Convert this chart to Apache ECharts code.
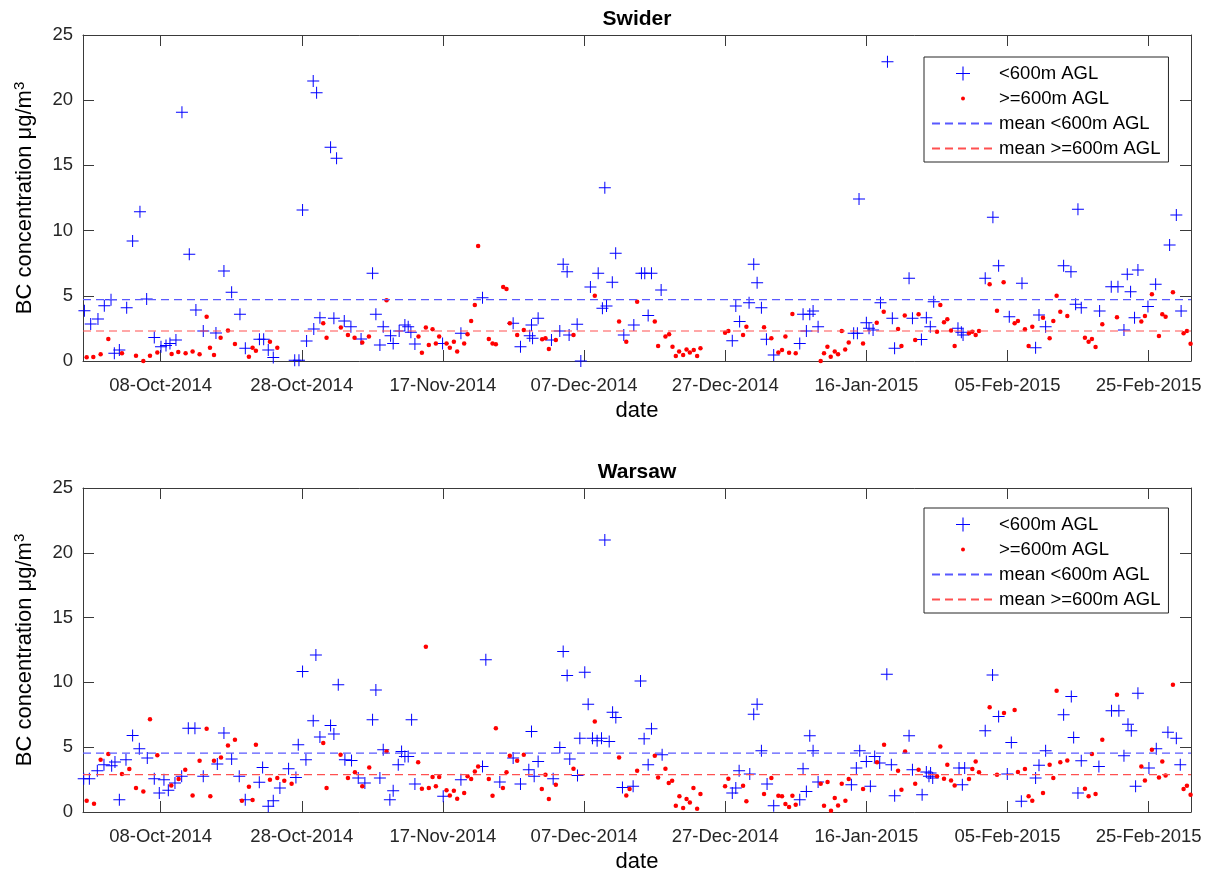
<!DOCTYPE html>
<html>
<head>
<meta charset="utf-8">
<script src="https://cdn.jsdelivr.net/npm/echarts@6/dist/echarts.min.js"></script>
<style>
  html, body { margin: 0; padding: 0; background: #ffffff; }
  #chart { width: 1216px; height: 876px; }
</style>
</head>
<body>
<div id="chart"></div>
<script>
// Time is stored as days since 27-Sep-2014 00:00 UTC.
const startDate = Date.UTC(2014, 8, 27);
const endDay = 157; // 03-Mar-2015

const dateTicks = ['08-Oct-2014', '28-Oct-2014', '17-Nov-2014', '07-Dec-2014',
                   '27-Dec-2014', '16-Jan-2015', '05-Feb-2015', '25-Feb-2015'];

// Swider: [day, BC concentration µg/m3]
const swiderLow = [
  [0.2,3.86],[1.09,2.84],[2.12,3.22],[3.02,4.24],[3.97,4.70],[4.44,0.59],[5.15,0.84],[6.19,4.09],
  [7.03,9.20],[8.07,11.45],[9.02,4.75],[10.10,1.81],[11.05,1.10],[11.76,1.18],[12.32,1.35],[13.17,1.61],
  [14.02,19.07],[15.06,8.18],[16.0,3.91],[17.04,2.30],[18.84,2.15],[19.97,6.90],[21.06,5.27],[22.24,3.58],
  [23.0,0.97],[25.0,1.66],[25.6,1.66],[26.25,0.84],[26.96,0.26],[30.0,0.05],[30.6,0.05],[31.11,11.58],
  [31.68,1.53],[32.62,21.47],[33.1,20.58],[32.7,2.45],[33.57,3.32],[35.08,16.39],[35.93,15.54],[35.55,3.27],
  [37.02,3.07],[37.96,2.63],[39.4,1.69],
  [41.03,6.72],[41.5,3.58],[42.07,1.23],[42.54,2.63],[43.58,1.94],[43.95,1.35],[44.8,2.30],[45.61,2.76],
  [46.08,2.63],[46.46,2.20],[47.03,1.30],[50.95,1.35],[53.55,2.12],[56.61,4.86],[60.95,2.89],[61.99,1.10],
  [63.3,1.94],[63.7,1.74],[63.55,2.76],[64.49,3.27],[66.38,1.61],[67.56,2.30],[68.04,7.41],[68.6,6.85],
  [68.88,1.99],[70.02,2.81],[70.54,0.0],[71.9,5.67],[73.0,6.72],[73.6,4.04],[74.18,4.22],[73.94,13.29],
  [75.0,6.03],[75.48,8.26],[76.63,1.99],[78.05,2.76],
  [79.13,6.72],[79.6,6.72],[80.55,6.72],[80.08,3.48],[81.92,5.44],[92.0,1.56],[92.5,4.22],[93.04,3.02],
  [94.38,4.47],[95.04,7.41],[95.52,6.01],[96.13,4.09],[96.84,1.66],[97.87,0.46],[101.56,1.35],[102.03,3.58],
  [102.5,2.30],[102.98,3.58],[103.45,3.83],[104.16,2.63],[109.2,2.12],[109.73,2.12],[109.96,12.42],[111.0,2.94],
  [111.38,2.51],[111.95,2.38],[113.0,4.47],[113.99,22.95],[114.68,3.27],[115.0,0.97],[117.05,6.34],[117.53,3.27],
  [118.8,1.65],
  [119.5,3.32],[120.06,2.63],[120.54,4.55],[123.98,2.51],[124.46,2.20],[124.7,1.99],[127.84,6.34],[128.93,11.02],
  [129.74,7.31],[131.25,3.40],[133.05,5.96],[134.98,1.02],[135.46,3.53],[136.4,2.63],[138.95,7.31],[139.99,6.85],
  [140.65,4.35],[140.98,11.63],[141.45,4.09],[144.05,3.83],[145.7,5.70],[146.65,5.70],[147.5,2.38],[147.97,6.65],
  [148.44,5.32],[149.0,3.32],[149.48,6.98],[150.9,4.17],[151.99,5.88],[153.97,8.90],[154.92,11.20],[155.6,3.83]
];

const swiderHigh = [
  [0.52,0.28],[1.46,0.31],[2.5,0.51],[3.59,1.69],[5.52,0.59],[7.51,0.41],[8.55,0.0],[9.49,0.41],
  [10.53,0.66],[12.56,0.54],[13.5,0.69],[14.54,0.59],[15.53,0.72],[16.52,0.51],[17.52,3.40],[17.99,1.02],
  [18.56,0.46],[19.5,1.79],[20.54,2.33],[21.53,1.30],[23.51,0.33],[24.03,1.02],[24.5,0.79],[26.49,1.48],
  [27.53,1.02],[34.04,2.89],[34.51,1.79],[36.54,2.56],[37.54,1.99],[38.48,1.79],
  [39.57,1.41],[40.51,1.87],[43.01,4.65],[47.54,1.87],[48.02,0.64],[48.58,2.56],[49.0,1.23],[49.53,2.43],
  [50.0,1.35],[50.47,1.87],[51.51,1.35],[51.98,1.02],[52.55,1.48],[53.02,0.72],[54.01,1.35],[54.49,2.05],
  [55.0,3.07],[55.52,4.29],[55.99,8.82],[57.5,1.69],[58.03,1.35],[58.5,1.28],[59.54,5.67],[60.01,5.52],
  [60.48,2.89],[61.52,1.99],[62.46,2.38],[65.06,1.66],[65.53,1.74],[66.01,0.92],[67.0,1.61],[69.5,1.99],
  [72.52,5.01],[75.96,3.02],[76.98,1.48],[78.52,4.55],
  [81.02,3.02],[81.49,1.15],[82.53,1.87],[83.05,2.05],[83.53,1.10],[84.0,0.38],[84.47,0.72],[85.04,0.46],
  [85.52,0.89],[85.99,0.66],[86.54,0.84],[87.02,0.38],[87.49,0.97],[90.98,2.17],[91.45,2.30],[93.53,1.99],
  [94.0,2.63],[96.5,2.58],[97.54,1.74],[98.53,0.66],[99.05,0.84],[99.53,1.87],[100.05,0.64],[100.52,3.60],
  [100.99,0.59],[104.53,0.0],[105.0,0.59],[105.48,1.10],[105.95,0.33],[106.52,0.72],[106.99,0.51],[107.51,2.30],
  [108.0,0.89],[108.5,1.41],[110.53,1.35],[112.47,2.94],[113.46,3.78],[115.49,2.45],[115.97,1.15],[116.44,3.48],
  [117.92,1.61],[118.4,3.58],
  [121.01,2.25],[121.48,4.29],[122.0,2.97],[122.47,3.20],[123.0,2.33],[123.51,1.15],[125.54,2.12],[126.01,2.25],
  [126.49,1.99],[126.96,2.30],[128.47,5.88],[129.51,3.86],[130.45,6.03],[132.01,2.89],[132.48,3.07],[133.47,2.43],
  [133.99,1.15],[134.51,2.63],[136.03,3.32],[136.97,1.74],[137.49,3.07],[137.96,5.01],[138.48,3.78],[139.47,3.45],
  [141.97,1.79],[142.49,1.48],[142.96,1.69],[143.48,1.07],[144.43,2.81],[146.51,3.35],[149.96,3.02],[150.47,3.45],
  [151.46,5.11],[152.46,1.92],[152.93,3.58],[153.4,3.40],[154.44,5.27],[155.95,2.12],[156.42,2.30],[156.94,1.33]
];

// Warsaw: [day, BC concentration µg/m3]
const warsawLow = [
  [0.1,2.57],[0.9,2.57],[2.03,3.18],[2.97,3.65],[4.06,3.57],[4.53,3.85],[5.15,0.95],[6.09,4.03],
  [7.03,5.91],[7.98,4.88],[9.11,4.16],[10.1,2.57],[10.81,1.46],[11.47,2.49],[12.09,1.67],[13.03,2.23],
  [13.98,2.75],[14.92,6.47],[15.86,6.47],[17.04,2.75],[19.03,3.70],[19.97,6.09],[21.06,4.08],[22.14,2.75],
  [22.99,0.95],[24.98,2.29],[25.45,3.44],[26.25,0.44],[26.96,0.87],[27.9,1.85],[29.13,3.34],[30.17,2.67],
  [30.5,5.19],[31.11,10.84],[31.59,4.03],[32.62,7.04],[33.0,12.12],[33.57,5.78],[35.08,6.68],[35.55,6.01],
  [36.17,9.81],[37.11,4.03],[38.05,3.98],[39.0,2.62],
  [39.94,2.23],[41.03,7.11],[41.5,9.42],[42.07,2.62],[42.54,4.80],[43.48,0.95],[43.95,1.64],[44.67,3.65],
  [45.14,4.67],[45.61,4.29],[46.08,4.29],[46.56,7.11],[47.03,2.16],[51.04,1.21],[53.55,2.49],[56.61,3.52],
  [57.08,11.74],[59.06,2.31],[60.95,4.16],[61.99,2.16],[63.17,3.26],[63.55,6.21],[63.93,2.75],[64.49,3.90],
  [66.62,2.57],[67.56,4.98],[68.04,12.38],[68.6,10.53],[68.97,4.08],[70.07,2.82],[70.4,5.70],[71.1,10.79],
  [71.58,8.32],[72.19,5.70],[72.85,5.50],[73.47,5.70],[73.94,20.98],[74.56,5.44],[75.04,7.70],[75.5,7.29],
  [76.44,1.90],[77.95,1.98],[79.0,10.1],
  [79.51,5.65],[80.55,6.42],[80.08,3.65],[82.06,4.42],[92.0,1.46],[92.5,1.85],[92.97,3.18],[94.48,2.93],
  [95.04,7.55],[95.52,8.32],[96.13,4.73],[96.93,2.16],[97.87,0.49],[101.56,0.95],[102.03,3.34],[102.5,1.59],
  [102.98,5.88],[103.45,4.73],[104.16,2.31],[108.88,2.11],[109.58,3.39],[110.06,4.73],[111.0,3.90],[111.57,1.98],
  [112.18,4.29],[112.89,3.78],[113.9,10.63],[114.54,3.65],[115.01,1.26],[117.05,5.88],[117.53,3.26],[118.9,1.34],
  [119.5,3.08],[119.87,2.75],[120.1,3.0],[120.4,2.62],[124.13,3.39],[124.6,2.11],[124.93,3.39],[127.84,6.27],
  [128.88,10.58],[129.74,7.37],[130.97,2.93],[131.54,5.37],[132.96,0.82],[134.98,2.62],[135.46,3.60],[136.4,4.73],
  [138.95,7.50],[140.04,8.91],[140.37,5.75],[140.98,1.46],[141.45,3.95],[143.95,3.52],[145.74,7.81],[146.78,7.81],
  [147.5,4.34],[148.07,6.78],[148.54,6.27],[149.15,1.98],[149.48,9.17],[151.04,3.39],[152.08,4.88],[153.73,6.16],
  [154.92,5.70],[155.48,3.65]
];

const warsawHigh = [
  [0.52,0.87],[1.56,0.64],[2.5,4.03],[3.59,4.47],[5.52,2.93],[6.56,3.31],[7.51,1.85],[8.55,1.59],
  [9.49,7.16],[10.53,4.37],[12.51,2.05],[13.55,2.54],[14.49,3.26],[15.53,1.28],[16.52,3.95],[17.52,6.42],
  [18.04,1.21],[18.56,3.95],[19.55,4.21],[20.54,5.14],[21.53,5.57],[22.52,0.87],[23.51,1.95],[24.03,0.92],
  [24.5,5.19],[26.49,2.49],[27.53,2.62],[28.52,2.41],[29.56,2.18],[34.04,5.32],[34.51,1.85],[36.5,4.42],
  [37.54,2.62],[38.53,3.06],
  [39.57,1.98],[40.56,3.44],[43.01,4.67],[47.49,3.83],[48.02,1.80],[48.58,12.76],[49.0,1.85],[49.53,2.70],
  [50.0,1.98],[50.47,2.70],[51.51,1.67],[51.98,1.28],[52.55,1.64],[53.02,1.03],[54.01,1.46],[54.49,2.75],
  [55.0,2.54],[55.52,3.13],[55.99,3.52],[57.5,2.54],[58.03,1.26],[58.5,6.47],[59.5,1.85],[60.01,3.06],
  [60.48,4.34],[61.52,3.95],[62.46,4.42],[65.01,1.77],[65.53,2.88],[66.01,1.00],[67.0,2.11],[69.5,3.34],
  [72.52,6.98],[75.96,4.21],[76.98,1.28],[77.45,1.77],[78.52,3.18],
  [81.02,4.34],[81.49,2.67],[82.53,3.34],[83.0,2.23],[83.48,2.41],[84.0,0.49],[84.51,1.21],[85.04,0.31],
  [85.52,1.00],[85.99,0.74],[86.5,1.85],[87.02,0.26],[87.49,1.39],[90.98,1.98],[91.45,2.57],[93.53,2.03],
  [94.0,0.82],[96.5,1.39],[97.54,2.62],[98.53,1.26],[99.05,1.21],[99.53,0.62],[100.05,0.39],[100.52,1.26],
  [100.99,0.56],[104.53,2.18],[105.0,0.49],[105.5,2.31],[105.99,0.10],[106.52,1.08],[106.99,0.51],[107.51,2.18],
  [108.03,0.87],[108.5,2.54],[110.53,1.77],[112.51,3.83],[113.51,5.19],[115.49,3.18],[115.97,1.72],[116.49,4.67],
  [117.92,2.18],[118.4,3.26],
  [121.01,2.75],[121.48,5.06],[122.0,2.57],[122.47,3.65],[123.0,2.44],[123.51,2.05],[125.54,2.54],[126.01,3.31],
  [126.49,3.90],[126.96,3.06],[128.47,8.09],[129.51,2.88],[130.5,7.63],[132.01,7.88],[132.48,3.08],[133.47,3.31],
  [133.99,1.21],[134.51,0.87],[136.03,1.46],[136.97,3.65],[137.49,2.62],[137.96,9.35],[138.48,3.83],[139.47,3.98],
  [141.97,1.80],[142.49,1.21],[142.96,4.47],[143.48,1.39],[144.43,5.57],[146.51,9.04],[149.96,3.52],[150.47,2.44],
  [151.46,4.80],[152.46,2.67],[152.93,3.90],[153.4,2.82],[154.44,9.81],[155.95,1.77],[156.42,2.03],[156.94,1.34]
];

// Mean concentrations for each height class
const swiderMeanLow = 4.70, swiderMeanHigh = 2.30;
const warsawMeanLow = 4.55, warsawMeanHigh = 2.88;

const panels = [
  { title: 'Swider', low: swiderLow, high: swiderHigh, meanLow: swiderMeanLow, meanHigh: swiderMeanHigh,
    top: 35, height: 326, legendTop: 57, titleTop: 9 },
  { title: 'Warsaw', low: warsawLow, high: warsawHigh, meanLow: warsawMeanLow, meanHigh: warsawMeanHigh,
    top: 488, height: 324, legendTop: 508, titleTop: 462 }
];

const MONTHS = ['Jan','Feb','Mar','Apr','May','Jun','Jul','Aug','Sep','Oct','Nov','Dec'];
const DAY_MS = 86400000;
function labelToDay(s) {
  const [d, m, y] = s.split('-');
  return Math.round((Date.UTC(+y, MONTHS.indexOf(m), +d) - startDate) / DAY_MS);
}
function dayToLabel(v) {
  const t = new Date(startDate + Math.round(v) * DAY_MS);
  const dd = String(t.getUTCDate()).padStart(2, '0');
  return dd + '-' + MONTHS[t.getUTCMonth()] + '-' + t.getUTCFullYear();
}
const tickDays = dateTicks.map(labelToDay);

const FONT = '"Liberation Sans", Arial, Helvetica, sans-serif';
const AXIS_COLOR = '#3a3a3a';
const BLUE = '#0000ff', RED = '#ff0000';
const MEAN_BLUE = '#5959ff', MEAN_RED = '#ff5050';
const DASH = [8, 5];
const PLUS = 'path://M0,5.5H12V6.5H0Z M5.5,0H6.5V12H5.5Z';
const LEGEND_PLUS = 'path://M0,6H13V7H0Z M6,0H7V13H6Z';
const LEGEND_DOT = 'path://M0,0M14,14M5,7A2,2,0,1,0,9,7A2,2,0,1,0,5,7Z';
const NAMES = ['<600m AGL', '>=600m AGL', 'mean <600m AGL', 'mean >=600m AGL'];

const grid = [], xAxis = [], yAxis = [], series = [], legend = [], title = [];

panels.forEach((p, g) => {
  grid.push({ left: 83, width: 1108, top: p.top, height: p.height, containLabel: false });

  const xBase = {
    gridIndex: g, type: 'value', min: 0, max: endDay,
    axisLine: { show: true, onZero: false, lineStyle: { color: AXIS_COLOR, width: 1 } },
    axisTick: { show: true, inside: true, length: 11, customValues: tickDays,
                lineStyle: { color: AXIS_COLOR, width: 1 } },
    splitLine: { show: false }
  };
  xAxis.push(Object.assign({}, xBase, {
    position: 'bottom',
    axisLabel: { show: true, customValues: tickDays, formatter: dayToLabel, margin: 15,
                 fontSize: 18.5, fontFamily: FONT, color: '#262626' },
    name: 'date', nameLocation: 'middle', nameGap: 39,
    nameTextStyle: { fontSize: 22, fontFamily: FONT, color: '#000' }
  }));
  xAxis.push(Object.assign({}, xBase, { position: 'top', axisLabel: { show: false } }));

  const yBase = {
    gridIndex: g, type: 'value', min: 0, max: 25, interval: 5,
    axisLine: { show: true, onZero: false, lineStyle: { color: AXIS_COLOR, width: 1 } },
    axisTick: { show: true, inside: true, length: 11, lineStyle: { color: AXIS_COLOR, width: 1 } },
    splitLine: { show: false }
  };
  yAxis.push(Object.assign({}, yBase, {
    position: 'left',
    axisLabel: { show: true, margin: 10, fontSize: 18.5, fontFamily: FONT, color: '#262626' },
    name: '{a|BC concentration μg/m}{s|3}', nameLocation: 'middle', nameGap: 45, nameRotate: 90,
    nameTextStyle: {
      fontFamily: FONT, color: '#000', fontSize: 22,
      rich: {
        a: { fontSize: 22, lineHeight: 26, fontFamily: FONT, color: '#000', verticalAlign: 'middle' },
        s: { fontSize: 15, lineHeight: 14, fontFamily: FONT, color: '#000', verticalAlign: 'top' }
      }
    }
  }));
  yAxis.push(Object.assign({}, yBase, { position: 'right', axisLabel: { show: false } }));

  const xi = 2 * g, yi = 2 * g;
  series.push({
    name: NAMES[0], type: 'scatter', xAxisIndex: xi, yAxisIndex: yi,
    symbol: PLUS, symbolSize: 12, itemStyle: { color: BLUE, opacity: 1 },
    data: p.low, silent: true, z: 2
  });
  series.push({
    name: NAMES[1], type: 'scatter', xAxisIndex: xi, yAxisIndex: yi,
    symbol: 'circle', symbolSize: 4.5, itemStyle: { color: RED, opacity: 1 },
    data: p.high, silent: true, z: 3
  });
  series.push({
    name: NAMES[2], type: 'line', xAxisIndex: xi, yAxisIndex: yi,
    symbol: 'none', showSymbol: false, silent: true, z: 4,
    lineStyle: { color: MEAN_BLUE, width: 1.2, type: DASH }, itemStyle: { color: MEAN_BLUE },
    data: [[0, p.meanLow], [endDay, p.meanLow]]
  });
  series.push({
    name: NAMES[3], type: 'line', xAxisIndex: xi, yAxisIndex: yi,
    symbol: 'none', showSymbol: false, silent: true, z: 4,
    lineStyle: { color: MEAN_RED, width: 1.2, type: DASH }, itemStyle: { color: MEAN_RED },
    data: [[0, p.meanHigh], [endDay, p.meanHigh]]
  });

  legend.push({
    left: 924, top: p.legendTop, orient: 'vertical',
    backgroundColor: '#ffffff', borderColor: '#262626', borderWidth: 1, borderRadius: 0,
    padding: [7, 8, 4, 7], itemGap: 6, itemWidth: 62, itemHeight: 14,
    selectedMode: false,
    textStyle: { fontSize: 18.5, fontFamily: FONT, color: '#000', lineHeight: 14 },
    data: [
      { name: NAMES[0], icon: LEGEND_PLUS },
      { name: NAMES[1], icon: LEGEND_DOT },
      { name: NAMES[2], itemStyle: { opacity: 0 } },
      { name: NAMES[3], itemStyle: { opacity: 0 } }
    ]
  });

  title.push({
    text: p.title, left: 637, top: p.titleTop, textAlign: 'center', padding: 0,
    textStyle: { fontSize: 21, fontWeight: 'bold', fontFamily: FONT, color: '#000' }
  });
});

const chart = echarts.init(document.getElementById('chart'), null, { renderer: 'canvas' });
chart.setOption({
  animation: false,
  backgroundColor: '#ffffff',
  textStyle: { fontFamily: FONT },
  title, grid, xAxis, yAxis, legend, series
});
</script>
</body>
</html>
